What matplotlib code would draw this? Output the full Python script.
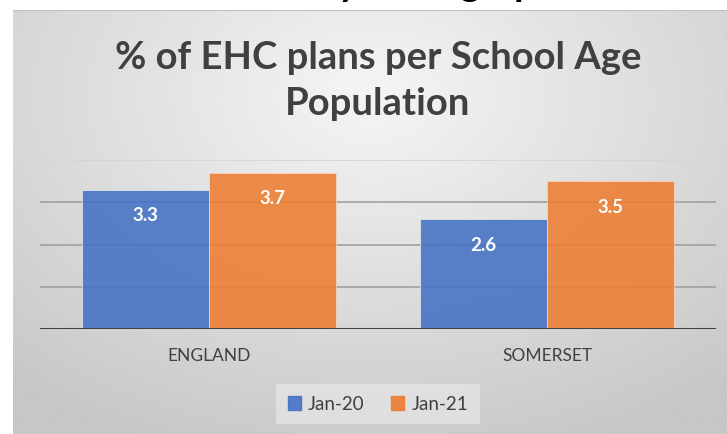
import numpy as np
import matplotlib.pyplot as plt
from matplotlib.patches import Patch

# data
categories = ["ENGLAND", "SOMERSET"]
series_names = ["Jan-20", "Jan-21"]
jan20 = [3.3, 2.6]
jan21 = [3.7, 3.5]
colors = ["#4472C4", "#ED7D31"]

W, H = 727, 434
fig = plt.figure(figsize=(W / 100, H / 100), dpi=100)
fig.patch.set_facecolor("white")

# grey panel with a soft radial gradient, like the office chart background
px0, py1 = 13, 10
bg = fig.add_axes([px0 / W, 0, 1 - px0 / W, 1 - py1 / H])
yy, xx = np.mgrid[-1:1:200j, -1:1:300j]
r = np.sqrt((xx * 0.9) ** 2 + (yy + 0.6) ** 2 * 0.6)
shade = np.clip(0.96 - 0.13 * r, 0.78, 0.96)
bg.imshow(shade, cmap="gray", vmin=0, vmax=1, aspect="auto", extent=[0, 1, 0, 1], origin="upper")
bg.set_xlim(0, 1)
bg.set_ylim(0, 1)
bg.axis("off")
bg.axhline(1, color="#bfbfbf", lw=1.5)

# bits of a slide heading cut off by the top edge (kept on purpose, as in the slide)
for ch, x in [("y", 348), ("g", 470), ("p", 525)]:
    fig.text(x / W, 1 + 4 / H, ch, fontsize=28, fontweight="bold", color="black",
             ha="center", va="baseline", family="Lato")

fig.text(0.52, 1 - 58 / H, "% of EHC plans per School Age", ha="center", va="center",
         fontsize=27.5, fontweight="bold", color="#404040", family="Lato")
fig.text(0.52, 1 - 104 / H, "Population", ha="center", va="center",
         fontsize=27.5, fontweight="bold", color="#404040", family="Lato")

ax_left, ax_right = 40, 716
y0_px, y4_px = 329, 160
ax = fig.add_axes([ax_left / W, 1 - y0_px / H, (ax_right - ax_left) / W, (y0_px - y4_px) / H])
ax.patch.set_alpha(0)
ax.set_xlim(-0.5, 1.5)
ax.set_ylim(0, 4)

for v in [1, 2, 3]:
    ax.axhline(v, color="#a0a0a0", lw=1.2, zorder=1)
ax.axhline(4, color="#d4d4d4", lw=1.2, zorder=1)

x = np.arange(len(categories))
bw = 0.376
b1 = ax.bar(x - bw / 2, jan20, bw, color=colors[0], alpha=0.88, zorder=2,
            edgecolor="#e8e8e8", linewidth=0.6)
b2 = ax.bar(x + bw / 2, jan21, bw, color=colors[1], alpha=0.88, zorder=2,
            edgecolor="#f4d9c6", linewidth=0.6)

for bars, vals in [(b1, jan20), (b2, jan21)]:
    for rect, v in zip(bars, vals):
        ax.annotate(f"{v:.1f}", (rect.get_x() + rect.get_width() / 2, v),
                    xytext=(0, -26), textcoords="offset pixels", ha="center", va="center",
                    color="white", fontsize=13.5, fontweight="bold", family="Lato", zorder=3)

ax.axhline(0, color="#404040", lw=2.2, zorder=4)
for s in ax.spines.values():
    s.set_visible(False)
ax.set_yticks([])
ax.set_xticks(x)
ax.set_xticklabels(categories, fontsize=12.5, color="#404040", family="Lato")
ax.tick_params(axis="x", length=0, pad=14)

handles = [Patch(color=c, alpha=0.9) for c in colors]
leg = fig.legend(handles, series_names, loc="center", bbox_to_anchor=(378 / W, 1 - 404 / H),
                 ncol=2, frameon=True, prop={"family": "Lato", "size": 13.5},
                 handlelength=0.7, handleheight=0.7, handletextpad=0.4, columnspacing=1.4,
                 borderpad=0.6, fancybox=False)
leg.get_frame().set_facecolor("#e4e4e4")
leg.get_frame().set_edgecolor("none")
for t in leg.get_texts():
    t.set_color("#404040")

fig.savefig("out.png", dpi=100)
